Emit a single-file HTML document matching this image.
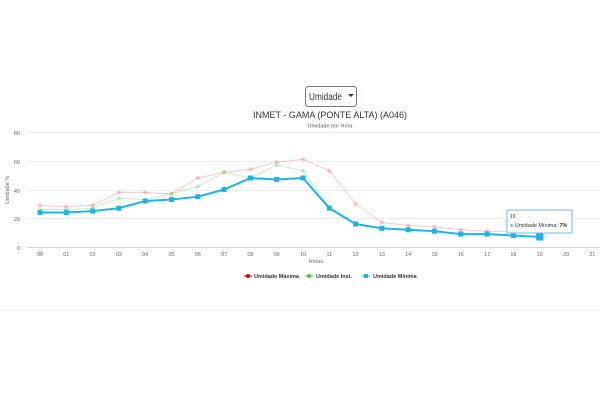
<!DOCTYPE html><html><head><style>body{margin:0;width:600px;height:400px;background:#fff;font-family:"Liberation Sans",sans-serif;overflow:hidden}</style></head><body>
<svg width="600" height="400" xmlns="http://www.w3.org/2000/svg" font-family="Liberation Sans, sans-serif">
<rect x="305.5" y="86.5" width="51" height="20" rx="3" fill="#fff" stroke="#6a7a8c"/>
<text x="309" y="100" font-size="10" fill="#333" textLength="33" lengthAdjust="spacingAndGlyphs">Umidade</text>
<path d="M348 94l3 3 3-3z" fill="#333"/>
<text x="330" y="118" font-size="9" fill="#333" text-anchor="middle">INMET - GAMA (PONTE ALTA) (A046)</text>
<text x="330" y="127.5" font-size="5.5" fill="#666" text-anchor="middle">Umidade por Hora</text>
<g stroke="#ececec" stroke-width="1">
<line x1="27" x2="600" y1="132.5" y2="132.5"/><line x1="27" x2="600" y1="161.5" y2="161.5"/><line x1="27" x2="600" y1="190.5" y2="190.5"/><line x1="27" x2="600" y1="218.5" y2="218.5"/></g>
<line x1="27" x2="600" y1="247.5" y2="247.5" stroke="#ccd6eb"/>
<g font-size="5.5" fill="#666" text-anchor="end"><text x="20" y="135">80</text><text x="20" y="164">60</text><text x="20" y="193">40</text><text x="20" y="221">20</text><text x="20" y="250">0</text></g>
<text transform="translate(9,190) rotate(-90)" font-size="5.5" fill="#666" text-anchor="middle">Umidade %</text>
<g font-size="5.5" fill="#666" text-anchor="middle" id="xl"></g>
<text x="316" y="263" font-size="5.5" fill="#666" text-anchor="middle">Horas</text>
<g id="s"></g>
<circle cx="539.7" cy="236.9" r="5" fill="#1fb4e0" opacity=".25"/>
<rect x="536.2" y="233.4" width="7" height="7" fill="#1fb4e0"/>
<rect x="507" y="210" width="65" height="23" fill="#fff" fill-opacity=".9" stroke="#7cb5ec"/>
<text x="510" y="218" font-size="5" fill="#333">19</text>
<text x="510" y="227" font-size="5.5" fill="#333"><tspan fill="#1fb4e0">●</tspan> Umidade Mínima: <tspan font-weight="bold">7%</tspan></text>
<g font-size="5.5" font-weight="bold" fill="#333">
<line x1="244" x2="252" y1="276" y2="276" stroke="#d00"/><circle cx="248" cy="276" r="2" fill="#d00"/><text x="254" y="278">Umidade Máxima</text>
<line x1="305" x2="313" y1="276" y2="276" stroke="#4c4"/><circle cx="309" cy="276" r="2" fill="#4c4"/><text x="316" y="278">Umidade Inst.</text>
<line x1="362" x2="370" y1="276" y2="276" stroke="#1fb4e0"/><rect x="364" y="274" width="4" height="4" fill="#1fb4e0"/><text x="373" y="278">Umidade Mínima</text></g>
<line x1="0" x2="600" y1="310.5" y2="310.5" stroke="#eee"/>
</svg>
<script>
const X=i=>40+i*26.3,Y=v=>247-v*1.4375,ns="http://www.w3.org/2000/svg";
const xl=document.getElementById('xl');
for(let i=0;i<22;i++){const t=document.createElementNS(ns,'text');t.setAttribute('x',X(i));t.setAttribute('y',256);t.textContent=String(i).padStart(2,'0');xl.appendChild(t);}
const mx=[29,28,29,38,38,37,48,52,54,59,61,53,30,17,15,14,12,11,11,10];
const ins=[26,26,27,34,33,37,42,52,48,57,53,28,16,13,12,11,9,9,8,7];
const mn=[24,24,25,27,32,33,35,40,48,47,48,27,16,13,12,11,9,9,8,7];
const s=document.getElementById('s');
function ser(d,c,w,op,sq){const p=document.createElementNS(ns,'polyline');p.setAttribute('points',d.map((v,i)=>X(i)+','+Y(v)).join(' '));p.setAttribute('fill','none');p.setAttribute('stroke',c);p.setAttribute('stroke-width',w);p.setAttribute('opacity',op);s.appendChild(p);
d.forEach((v,i)=>{let e;if(sq){e=document.createElementNS(ns,'rect');e.setAttribute('x',X(i)-2.5);e.setAttribute('y',Y(v)-2.5);e.setAttribute('width',5);e.setAttribute('height',5);}else{e=document.createElementNS(ns,'circle');e.setAttribute('cx',X(i));e.setAttribute('cy',Y(v));e.setAttribute('r',2);}e.setAttribute('fill',c);e.setAttribute('opacity',op);s.appendChild(e);});}
ser(mx,'#e88',1,.45,false);ser(ins,'#7d7',1,.45,false);ser(mn,'#1fb4e0',2,1,true);
</script>
</body></html>
